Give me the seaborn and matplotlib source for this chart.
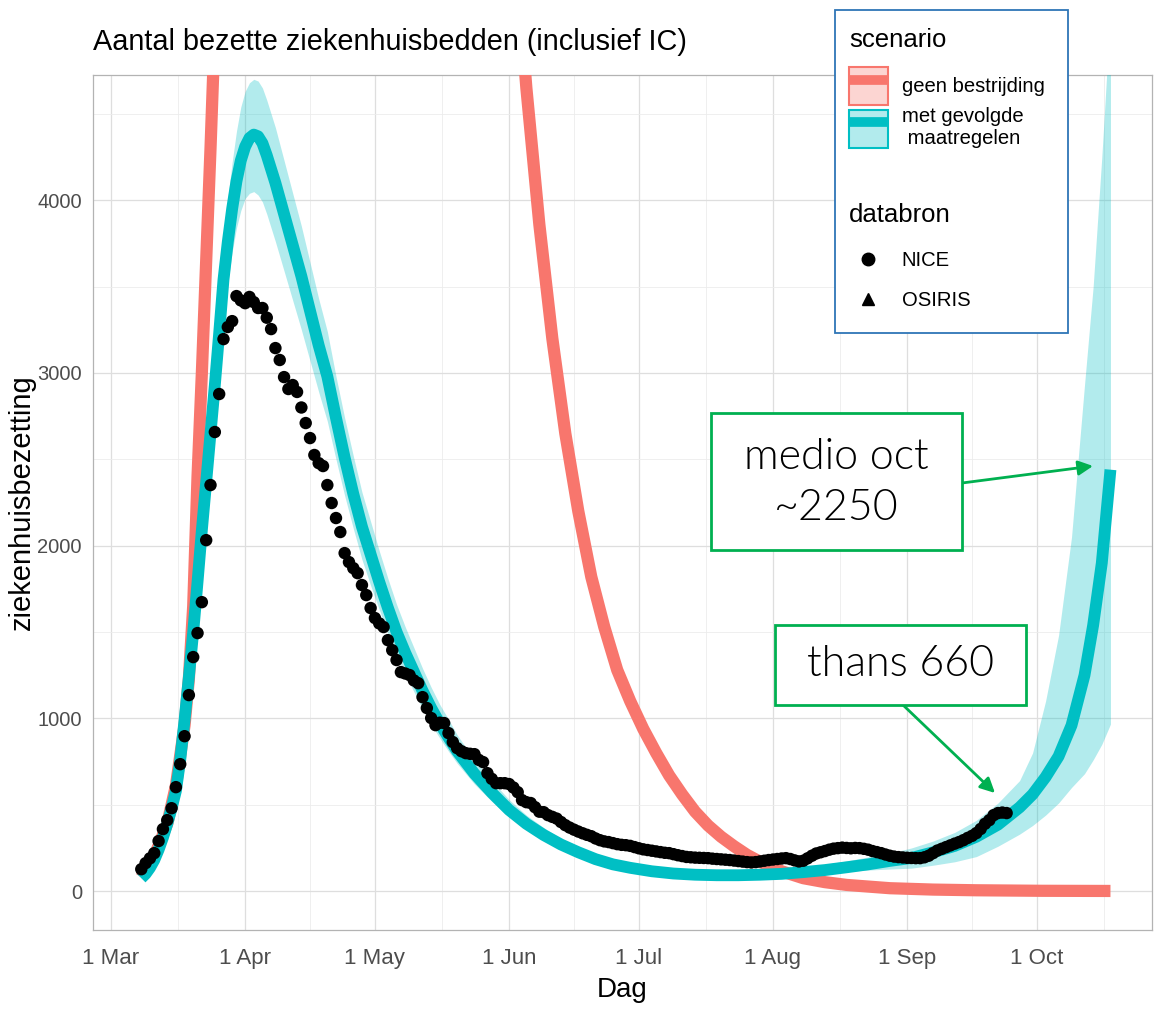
import pandas as pd
import matplotlib
matplotlib.use('Agg')
import matplotlib.pyplot as plt
import matplotlib.dates as mdates
import seaborn as sns
from matplotlib.patches import Patch, Rectangle
from matplotlib.lines import Line2D
from matplotlib.legend_handler import HandlerTuple

START = pd.Timestamp('2020-03-01')

# NICE data: daily occupied beds, first value on day 7 (8 March)
nice_first_day = 7
nice_values = [
    127, 162, 190, 220, 290, 359, 411, 480, 602, 735, 897, 1135, 1355, 1494,
    1673, 2032, 2351, 2658, 2878, 3196, 3266, 3300, 3445, 3420, 3404, 3440,
    3410, 3376, 3376, 3320, 3254, 3144, 3075, 2976, 2907, 2930, 2890, 2800,
    2710, 2623, 2525, 2478, 2461, 2351, 2247, 2160, 2079, 1957, 1905, 1870,
    1841, 1772, 1714, 1639, 1581, 1550, 1529, 1453, 1395, 1338, 1268, 1260,
    1251, 1220, 1204, 1123, 1060, 1002, 961, 975, 973, 915, 863, 828, 810,
    799, 795, 793, 760, 747, 683, 650, 625, 625, 625, 620, 600, 573, 527,
    515, 510, 486, 460, 457, 440, 430, 420, 400, 382, 368, 356, 345, 335,
    326, 318, 305, 295, 288, 284, 278, 272, 268, 266, 262, 255, 248, 242,
    238, 234, 230, 226, 222, 220, 214, 208, 203, 198, 196, 194, 193, 192,
    191, 188, 186, 184, 182, 180, 177, 174, 171, 168, 166, 168, 172, 176,
    180, 183, 186, 189, 191, 186, 178, 172, 176, 190, 205, 218, 225, 232,
    240, 246, 249, 252, 250, 248, 250, 249, 245, 240, 232, 226, 220, 212,
    205, 200, 197, 195, 193, 192, 191, 191, 196, 205, 220, 235, 245, 255,
    265, 275, 284, 295, 308, 320, 336, 360, 390, 411, 440, 452, 455, 452,
]

# model "met gevolgde maatregelen": median and band
teal_days = [7, 8, 9, 10, 11, 12, 13, 14, 15, 16, 17, 18, 19, 20, 21, 22, 23,
             24, 25, 26, 27, 28, 29, 30, 31, 32, 33, 34, 35, 36, 37, 38, 40,
             42, 44, 46, 48, 50, 52, 54, 56, 58, 60, 62, 64, 66, 68, 70, 72,
             74, 76, 78, 80, 84, 88, 92, 96, 100, 104, 108, 112, 116, 120,
             125, 130, 135, 140, 145, 150, 155, 160, 165, 170, 175, 180, 185,
             190, 195, 200, 205, 210, 213, 216, 219, 222, 225, 227, 229, 231]
teal_mid = [75, 100, 135, 180, 240, 310, 390, 480, 580, 760, 990, 1240, 1500,
            1790, 2090, 2370, 2650, 2930, 3230, 3540, 3760, 3950, 4110, 4230,
            4310, 4360, 4380, 4370, 4330, 4260, 4180, 4100, 3920, 3740, 3560,
            3360, 3160, 2980, 2740, 2510, 2300, 2110, 1950, 1790, 1640, 1500,
            1380, 1270, 1160, 1060, 970, 890, 810, 680, 570, 470, 390, 325,
            270, 225, 185, 155, 135, 115, 102, 95, 92, 92, 95, 100, 110, 122,
            138, 155, 175, 192, 225, 262, 315, 385, 485, 560, 660, 780, 960,
            1250, 1540, 1900, 2440]
teal_lo = [70, 95, 128, 170, 228, 295, 370, 455, 550, 720, 940, 1180, 1420,
           1690, 1970, 2230, 2490, 2750, 3030, 3320, 3520, 3700, 3840, 3940,
           4010, 4040, 4050, 4030, 3990, 3920, 3840, 3760, 3590, 3420, 3250,
           3070, 2890, 2720, 2500, 2290, 2100, 1920, 1770, 1630, 1490, 1365,
           1255, 1155, 1055, 965, 885, 810, 740, 620, 520, 430, 355, 295,
           245, 205, 170, 142, 123, 105, 93, 86, 83, 83, 85, 89, 96, 104,
           114, 122, 128, 133, 150, 170, 200, 260, 330, 380, 440, 510, 600,
           680, 760, 850, 967]
teal_hi = [80, 106, 143, 192, 256, 330, 415, 510, 615, 805, 1045, 1310, 1585,
           1890, 2210, 2510, 2810, 3110, 3430, 3760, 4010, 4220, 4400, 4540,
           4630, 4680, 4700, 4690, 4650, 4580, 4500, 4420, 4230, 4040, 3850,
           3640, 3430, 3240, 2980, 2740, 2520, 2310, 2140, 1970, 1810, 1660,
           1530, 1410, 1290, 1180, 1080, 995, 905, 760, 640, 530, 440, 368,
           305, 255, 210, 177, 155, 133, 120, 112, 110, 112, 117, 125, 138,
           155, 175, 198, 220, 250, 290, 340, 410, 510, 640, 800, 1100, 1480,
           2050, 2930, 3500, 4250, 5100]

# model "geen bestrijding"
red_days = [7, 10, 13, 15, 17, 18, 19, 20, 21, 22, 23, 24, 26, 28, 32, 40, 50,
            60, 70, 80, 86, 90, 93, 96, 99, 102, 105, 108, 111, 114, 117, 120,
            123, 126, 129, 132, 135, 138, 141, 144, 147, 150, 155, 160, 165,
            170, 180, 190, 200, 215, 231]
red_mid = [80, 200, 390, 610, 960, 1230, 1650, 2400, 3000, 3650, 4300, 5000,
           6800, 9000, 13000, 20000, 26000, 28000, 22000, 13500, 8800, 6700,
           5600, 4650, 3860, 3200, 2650, 2200, 1820, 1530, 1280, 1100, 940,
           800, 670, 560, 460, 380, 315, 260, 210, 170, 115, 75, 52, 36, 17, 9,
           5, 2, 1]

month_labels = ['1 Mar', '1 Apr', '1 May', '1 Jun', '1 Jul', '1 Aug', '1 Sep', '1 Oct']
y_ticks = [0, 1000, 2000, 3000, 4000]

RED = '#F8766D'
TEAL = '#00BFC4'
GREEN = '#00B050'


def to_dates(days):
    return START + pd.to_timedelta(pd.Series(days, dtype=float), unit='D')


nice = pd.DataFrame({'date': to_dates(range(nice_first_day, nice_first_day + len(nice_values))),
                     'value': nice_values})
teal = pd.DataFrame({'date': to_dates(teal_days), 'mid': teal_mid, 'lo': teal_lo, 'hi': teal_hi})
red = pd.DataFrame({'date': to_dates(red_days), 'mid': red_mid})

sns.set_style('white')
plt.rcParams['font.family'] = ['Liberation Sans', 'DejaVu Sans']
plt.rcParams['text.color'] = 'black'
plt.rcParams['axes.labelcolor'] = 'black'

W, H = 1155, 1009
fig = plt.figure(figsize=(W / 100, H / 100), dpi=100)


def fx(x):
    return x / W


def fy(y):
    return 1 - y / H


ax = fig.add_axes([fx(93), fy(930), fx(1152) - fx(93), fy(75) - fy(930)])

# layers: red model, teal ribbon + model, data points
sns.lineplot(data=red, x='date', y='mid', color=RED, lw=8.8, ax=ax, zorder=3,
             solid_capstyle='butt')
ax.fill_between(teal['date'], teal['lo'], teal['hi'], color=TEAL, alpha=0.3,
                lw=0, zorder=4)
sns.lineplot(data=teal, x='date', y='mid', color=TEAL, lw=8.5, ax=ax, zorder=5,
             solid_capstyle='butt')
sns.scatterplot(data=nice, x='date', y='value', color='black', s=80,
                edgecolor='none', ax=ax, zorder=6)

x0 = mdates.date2num(START)
ax.set_xlim(x0 - 4.16, x0 + 240.6)
ax.set_ylim(-225, 4725)

major = pd.date_range('2020-03-01', periods=9, freq='MS')
ax.set_xticks(major[:8])
ax.set_xticklabels(month_labels)
minor = [mdates.date2num(major[i]) + (mdates.date2num(major[i + 1]) - mdates.date2num(major[i])) / 2
         for i in range(8)]
ax.set_xticks(minor, minor=True)
ax.set_yticks(y_ticks)
ax.set_yticks([500, 1500, 2500, 3500, 4500], minor=True)

ax.grid(which='major', color='#dedede', lw=0.9)
ax.grid(which='minor', color='#ececec', lw=0.6)
ax.set_axisbelow(True)
for s in ax.spines.values():
    s.set_color('#b3b3b3')
    s.set_linewidth(0.9)
ax.tick_params(which='major', length=4, color='#b3b3b3', labelcolor='#4d4d4d')
ax.tick_params(axis='x', which='major', labelsize=16, pad=9)
ax.tick_params(axis='y', which='major', labelsize=14.5, pad=4)
ax.tick_params(which='minor', length=0)

ax.set_xlabel('Dag', fontsize=20)
ax.xaxis.set_label_coords(0.5, -(990 - 930) / (930 - 75), transform=ax.transAxes)
ax.xaxis.label.set_va('center')
ax.set_ylabel('ziekenhuisbezetting', fontsize=21)
ax.yaxis.set_label_coords((22 - 93) / (1152 - 93), 0.5, transform=ax.transAxes)
ax.yaxis.label.set_va('center')
fig.text(fx(93), fy(42), 'Aantal bezette ziekenhuisbedden (inclusief IC)',
         fontsize=20.8, va='center', ha='left')

# legend box
fig.add_artist(Rectangle((fx(835), fy(333)), fx(1068) - fx(835), fy(10) - fy(333),
                         transform=fig.transFigure, facecolor='white',
                         edgecolor='#2E75B6', lw=1.3, zorder=10))
red_key = (Patch(facecolor=(0.973, 0.463, 0.427, 0.3), edgecolor=RED, lw=1.5),
           Line2D([], [], color=RED, lw=7, solid_capstyle='butt'))
teal_key = (Patch(facecolor=(0.0, 0.749, 0.769, 0.3), edgecolor=TEAL, lw=1.5),
            Line2D([], [], color=TEAL, lw=7, solid_capstyle='butt'))
leg1 = fig.legend([red_key, teal_key], ['geen bestrijding', 'met gevolgde\n maatregelen'],
                  handler_map={tuple: HandlerTuple(ndivide=1, pad=0)},
                  loc='upper left', bbox_to_anchor=(fx(843), fy(35)), frameon=False,
                  title='scenario', alignment='left', fontsize=14.6, title_fontsize=18.5,
                  handlelength=1.9, handleheight=2.5, labelspacing=0.1,
                  handletextpad=0.7, borderaxespad=0, borderpad=0.3)
leg1.set_zorder(11)
leg1.get_title().set_position((0, 13))
nice_key = Line2D([], [], marker='o', color='black', ls='', ms=9)
osiris_key = Line2D([], [], marker='^', color='black', ls='', ms=9)
leg2 = fig.legend([nice_key, osiris_key], ['NICE', 'OSIRIS'],
                  loc='upper left', bbox_to_anchor=(fx(843), fy(201)), frameon=False,
                  title='databron', alignment='left', fontsize=14.6, title_fontsize=18.5,
                  handlelength=1.9, labelspacing=1.0, handletextpad=0.7,
                  borderaxespad=0, borderpad=0.3)
leg2.set_zorder(11)
leg2.get_title().set_position((0, 4))

# annotations
ANN = dict(family=['Lato', 'DejaVu Sans'], fontweight=300, color='black',
           ha='center', va='center', zorder=12)
for (x1, y1, x2, y2) in [(711, 413, 962, 550), (775, 625, 1026, 705)]:
    fig.add_artist(Rectangle((fx(x1), fy(y2)), fx(x2) - fx(x1), fy(y1) - fy(y2),
                             transform=fig.transFigure, facecolor='white',
                             edgecolor=GREEN, lw=2, zorder=11))
fig.text(fx(836), fy(483), 'medio oct\n~2250', fontsize=31, linespacing=1.4, **ANN)
fig.text(fx(901), fy(665), 'thans 660', fontsize=31, **ANN)
for (xs, ys, xe, ye) in [(962, 483, 1093, 466), (903, 705, 995, 793)]:
    ax.annotate('', xy=(fx(xe), fy(ye)), xytext=(fx(xs), fy(ys)),
                xycoords='figure fraction', textcoords='figure fraction',
                arrowprops=dict(arrowstyle='-|>', color=GREEN, lw=2,
                                mutation_scale=22, shrinkA=0, shrinkB=0),
                zorder=12)

fig.savefig('out.png', dpi=100)
